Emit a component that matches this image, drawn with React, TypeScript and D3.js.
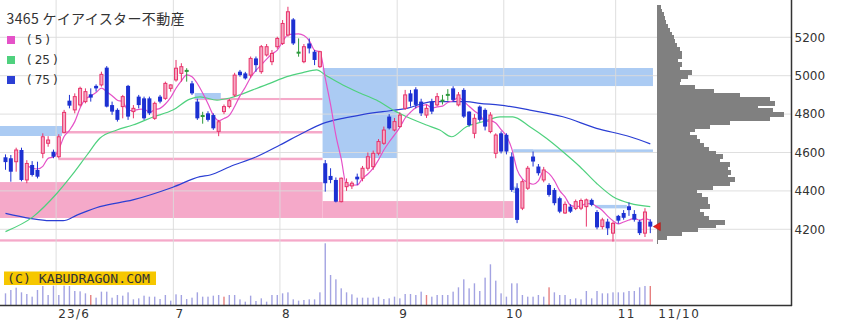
import React from "react";
import * as d3 from "d3";

// ---- data ----
const opens = [4575,4570,4552,4613,4457,4535,4509,4596,4648,4604, 4578,4705,4870,4822,4848,4865,4903,4947,4952,5042, 4847,4822,4839,4947,4813,4891,4882,4882,4778,4891, 4882,4934,4978,5012,5025,4960,4865,4790,4804,4795, 4710,4813,4840,4899,5021,5012,5003,5090,5021,5108, 5073,5151,5168,5212,5293,5120,5073,5168,5125,5047, 4544,4478,4457,4344,4422,4426,4474,4466,4518,4526, 4596,4648,4787,4717,4735,4830,4908,4929,4865,4795, 4865,4848,4870,4900,4934,4848,4926,4813,4700,4839, 4822,4709,4596,4700,4692,4579,4414,4310,4414,4579, 4527,4457,4431,4405,4362,4285,4318,4309,4310,4318, 4353,4290,4214,4240,4180,4270,4285,4320,4280,4240, 4180,4240];
const highs = [4590,4587,4625,4625,4560,4555,4552,4700,4685,4615, 4695,4822,4900,4908,4943,4934,4934,4955,5021,5050, 4865,4830,4900,4952,4847,4900,4891,4891,4865,4900, 4969,4955,5082,5065,5039,4973,4880,4812,4815,4804, 4770,4850,4880,5015,5030,5020,5100,5100,5160,5165, 5134,5203,5290,5359,5300,5194,5165,5194,5134,5130, 4561,4518,4470,4470,4465,4450,4490,4530,4600,4610, 4670,4735,4800,4780,4810,4926,4926,4940,4880,4850, 4880,4910,4900,4930,4945,4915,4935,4815,4800,4845, 4830,4810,4700,4710,4700,4600,4440,4460,4530,4605, 4540,4525,4440,4415,4370,4345,4330,4355,4360,4360, 4360,4300,4260,4255,4240,4275,4300,4340,4300,4250, 4310,4252];
const lows = [4510,4448,4500,4450,4440,4475,4465,4570,4630,4570, 4570,4700,4830,4804,4839,4856,4865,4917,4943,4835, 4796,4761,4778,4770,4778,4830,4770,4795,4770,4856, 4874,4917,4969,4969,4969,4900,4770,4750,4761,4718, 4685,4800,4830,4890,4995,4980,4990,5020,5010,5100, 5055,5140,5160,5203,5160,5099,5065,5116,5055,5040, 4396,4440,4340,4340,4400,4410,4430,4450,4505,4510, 4585,4640,4720,4710,4730,4822,4839,4830,4790,4780, 4800,4840,4850,4870,4865,4840,4780,4735,4674,4760, 4715,4700,4570,4595,4590,4395,4232,4300,4405,4527, 4480,4445,4370,4325,4284,4280,4285,4300,4300,4214, 4320,4200,4200,4170,4136,4230,4250,4270,4240,4170, 4160,4180];
const closes = [4550,4500,4613,4457,4543,4483,4474,4682,4665,4578, 4682,4809,4844,4891,4934,4917,4886,4934,5007,4839, 4813,4770,4891,4787,4830,4847,4778,4804,4856,4865, 4960,4952,5039,5047,5025,4908,4778,4790,4770,4726, 4760,4839,4870,5003,5003,4986,5090,5055,5151,5151, 5116,5194,5272,5333,5168,5120,5151,5142,5082,5125, 4440,4457,4344,4466,4443,4440,4460,4518,4578,4596, 4657,4717,4726,4761,4795,4900,4865,4848,4804,4830, 4813,4891,4870,4900,4874,4900,4787,4743,4778,4770, 4735,4795,4691,4605,4605,4405,4249,4448,4518,4553, 4492,4509,4379,4336,4292,4330,4292,4344,4350,4353, 4327,4210,4249,4205,4231,4245,4260,4300,4250,4180, 4290,4214];
const volumes = [35,45,52,38,33,25,45,57,30,58, 30,58,57,42,41,35,30,22,40,40, 22,30,28,38,17,20,28,25,25,18, 30,13,32,30,18,22,38,25,25,28, 30,25,30,30,17,10,28,12,20,10, 30,30,35,38,17,13,15,17,17,38, 185,90,77,50,38,32,22,22,22,22, 25,18,20,25,20,33,33,30,40,30, 25,30,30,30,40,53,77,50,65,42, 82,122,73,35,25,65,65,30,25,25, 30,25,53,38,30,30,18,20,17,42, 20,42,35,35,38,38,38,42,42,53, 57,57];
const redVolumeIdx = [16, 41, 79, 102, 121];

const ma25: [number, number][] = [[0,4188],[5.2,4266],[9.7,4389],[12.5,4483],[15.3,4587],[17.7,4674],[20.9,4717],[23.9,4743],[27.7,4785],[31.4,4821],[34.6,4878],[36.5,4890],[39.7,4873],[42.1,4884],[46.4,4926],[49.6,4960],[52.8,4995],[55.8,5016],[58.4,5030],[60,5004],[63.3,4952],[66.5,4910],[69.6,4873],[72.7,4821],[75.9,4778],[79,4743],[81.5,4717],[83.7,4682],[86.5,4734],[89.6,4760],[92.8,4786],[95.2,4786],[98.4,4734],[101.5,4674],[104.6,4604],[107.8,4526],[110.9,4440],[114,4370],[117.2,4335],[121,4318]];
const ma75: [number, number][] = [[0,4283],[4.6,4257],[8.3,4245],[10.8,4245],[13.4,4274],[17.7,4318],[23.9,4353],[31.4,4419],[36.5,4474],[38.4,4483],[42.1,4526],[47.1,4578],[51.5,4639],[55.8,4702],[59.6,4752],[63.3,4778],[66.5,4795],[70.8,4813],[75.3,4830],[80.2,4865],[86.5,4865],[89,4856],[92.8,4847],[98.4,4821],[104.6,4786],[110.9,4726],[117.2,4682],[121,4645]];

const profilePrices = [5360,5340,5320,5300,5280,5260,5240,5220,5200,5180,5160,5140,5120,5100,5080,5060,5040,5020,5000,4980,4960,4940,4920,4900,4880,4860,4840,4820,4800,4780,4760,4740,4720,4700,4680,4660,4640,4620,4600,4580,4560,4540,4520,4500,4480,4460,4440,4420,4400,4380,4360,4340,4320,4300,4280,4260,4240,4220,4200,4180,4160,4140];
const profileVols = [4.4,4.7,6.5,7.7,9,10.5,12.5,14.5,16.5,17.5,19.5,22.5,24.5,24.5,20.5,24.5,22.5,34.5,30.5,23.5,22.5,37.5,56.5,82.5,112.5,117.5,100.5,115.5,126.5,112.5,72.5,52.5,37.5,32.5,39.5,42.5,46.5,51.5,58.5,65.5,62.5,72.5,70.5,73.5,70.5,77.5,72.5,55.5,39.5,44.5,50.5,50.5,52.5,42.5,46.5,51.5,67.5,58.5,40.5,24.5,9.5,1];

// zones: [startIdx, endIdx, lowPrice, highPrice]
const blueZones: [number, number, number, number][] = [[-1.1,10.6,4686,4738],[59.5,73.5,4571,5040],[73.5,121.5,4946,5040],[95.3,121.5,4603,4616],[95.3,99,4598,4616],[95.3,96.2,4389,4422],[110.6,116.6,4309,4327]];
const pinkZones: [number, number, number, number][] = [[-1.1,59.5,4259,4446],[59.5,95.3,4259,4347],[10.6,59.5,4699,4712],[9.9,59.5,4560,4573],[35.5,59.5,4873,4884],[-1.1,121.5,4136,4148]];
const blueZonesTop: [number, number, number, number][] = [[35.5,40.4,4878,4910]];

const yTicks = [4200, 4400, 4600, 4800, 5000, 5200];
const monthLabels = ["23/6", "7", "8", "9", "10", "11"];
const monthStartIdx = [10, 32, 52, 74, 94, 115];
const lastDateLabel = "11/10";
const maLabels = ["5", "25", "75"];
const title = "3465 ケイアイスター不動産";
const copyright = "(C) KABUDRAGON.COM";

const C = {
  up: "#e8336a", upFill: "#f6a9c4", down: "#1c30d2", even: "#2c9a3c",
  ma5: "#e552c8", ma25: "#4fd17e", ma75: "#2b3fd4",
  pink: "#f5a9c9", blue: "#abcbf3", grid: "#dcdcdc", vol: "#a3a3e2", volRed: "#e68080",
};

export default function App() {
  const n = closes.length;
  const x = d3.scaleLinear().domain([0, n - 1]).range([5.5, 650.3]);
  const y = d3.scaleLinear().domain([4200, 5200]).range([229.3, 37.3]);
  const yv = d3.scaleLinear().domain([0, 185]).range([305, 243.3]);
  const xp = d3.scaleLinear().domain([0, 130]).range([657, 787]);
  const half = (x(1) - x(0)) / 2;

  const ma5: [number, number][] = [];
  for (let i = 4; i < n; i++) ma5.push([i, d3.mean(closes.slice(i - 4, i + 1)) as number]);
  const line = d3.line<[number, number]>().x(d => x(d[0])).y(d => y(d[1])).curve(d3.curveMonotoneX);

  const zoneRect = (z: [number, number, number, number], fill: string, k: string) => (
    <rect key={k} x={Math.max(0, x(z[0]))} y={y(z[3])} width={x(z[1]) - Math.max(0, x(z[0]))} height={y(z[2]) - y(z[3])} fill={fill} />
  );

  return (
    <svg width={842} height={326} style={{ position: "absolute", left: 0, top: 0, background: "#fff" }} fontFamily="DejaVu Sans, sans-serif">
      <rect x={0} y={0} width={842} height={326} fill="#fff" />
      {pinkZones.map((z, i) => zoneRect(z, C.pink, "p" + i))}
      {blueZones.map((z, i) => zoneRect(z, C.blue, "b" + i))}
      {blueZonesTop.map((z, i) => zoneRect(z, C.blue, "bt" + i))}
      {/* grid */}
      {yTicks.map(t => (
        <line key={"h" + t} x1={0} x2={791} y1={y(t)} y2={y(t)} stroke={C.grid} strokeWidth={1} opacity={0.9} />
      ))}
      {monthStartIdx.map(i => (
        <line key={"v" + i} x1={x(i) - half} x2={x(i) - half} y1={0} y2={305} stroke={C.grid} strokeWidth={1} opacity={0.9} />
      ))}
      {/* volume profile */}
      <g shapeRendering="crispEdges">
        {profilePrices.map((p, i) => (
          <rect key={"pf" + i} x={xp(0)} y={y(p + 10)} width={xp(profileVols[i]) - xp(0)} height={y(p - 10) - y(p + 10) + 1} fill="#808080" />
        ))}
      </g>
      {/* moving averages */}
      <path d={line(ma75) || ""} fill="none" stroke={C.ma75} strokeWidth={1.2} />
      <path d={line(ma25) || ""} fill="none" stroke={C.ma25} strokeWidth={1.2} />
      <path d={line(ma5) || ""} fill="none" stroke={C.ma5} strokeWidth={1.2} />
      {/* candles */}
      {closes.map((c, i) => {
        const o = opens[i];
        const cx = x(i);
        const col = c > o ? C.up : c < o ? C.down : C.even;
        const top = y(Math.max(o, c));
        const bot = y(Math.min(o, c));
        return (
          <g key={"c" + i}>
            <line x1={cx} x2={cx} y1={y(highs[i])} y2={y(lows[i])} stroke={col} strokeWidth={1} />
            {c > o ? (
              <rect x={cx - 1.5} y={top} width={3} height={Math.max(1, bot - top)} fill={C.upFill} stroke={col} strokeWidth={1} />
            ) : c < o ? (
              <rect x={cx - 2} y={top} width={4} height={Math.max(1, bot - top)} fill={col} />
            ) : (
              <rect x={cx - 2} y={top - 1} width={4} height={2} fill={col} />
            )}
          </g>
        );
      })}
      {/* current price marker */}
      <path d={`M${x(n - 1) + 3},${y(closes[n - 1])} l7,-4 l0,8 z`} fill="#e3201c" stroke="#b01010" strokeWidth={0.6} />
      {/* volume */}
      {volumes.map((v, i) => (
        <rect key={"v" + i} x={x(i) - 0.7} y={yv(v)} width={1.4} height={yv(0) - yv(v)} fill={redVolumeIdx.includes(i) ? C.volRed : C.vol} />
      ))}
      {/* axes */}
      <line x1={791.5} x2={791.5} y1={0} y2={306} stroke="#333" strokeWidth={1.5} />
      <line x1={0} x2={792} y1={305.5} y2={305.5} stroke="#333" strokeWidth={1.5} />
      {yTicks.map(t => (
        <text key={"yl" + t} x={794.5} y={y(t) + 4.3} fontSize={12} fill="#333">{t}</text>
      ))}
      {monthStartIdx.map((idx, k) => (
        <text key={"xl" + k} x={x(idx) - 0.5} y={318} fontSize={12} fill="#333" letterSpacing={1.2}>{monthLabels[k]}</text>
      ))}
      <text x={x(n - 1) + 8} y={318} fontSize={12} fill="#333" letterSpacing={1.5}>{lastDateLabel}</text>
      {/* title & legend */}
      <text x={6.5} y={24} fontSize={14} fill="#333" fontFamily="Noto Sans CJK JP, sans-serif" textLength={178} lengthAdjust="spacing">{title}</text>
      {maLabels.map((m, k) => (
        <g key={"lg" + k}>
          <rect x={7} y={36 + k * 20} width={8} height={8} fill={[C.ma5, C.ma25, C.ma75][k]} />
          <text x={27} y={44.3 + k * 20} fontSize={12} fill="#333">
            <tspan>(</tspan><tspan dx={3}>{m}</tspan><tspan dx={3}>)</tspan>
          </text>
        </g>
      ))}
      {/* copyright */}
      <rect x={4} y={271.5} width={152} height={13.5} fill="#f6c700" />
      <text x={7} y={282.5} fontSize={12} fill="#333" fontFamily="DejaVu Sans Mono, monospace" textLength={143} lengthAdjust="spacingAndGlyphs">{copyright}</text>
    </svg>
  );
}
